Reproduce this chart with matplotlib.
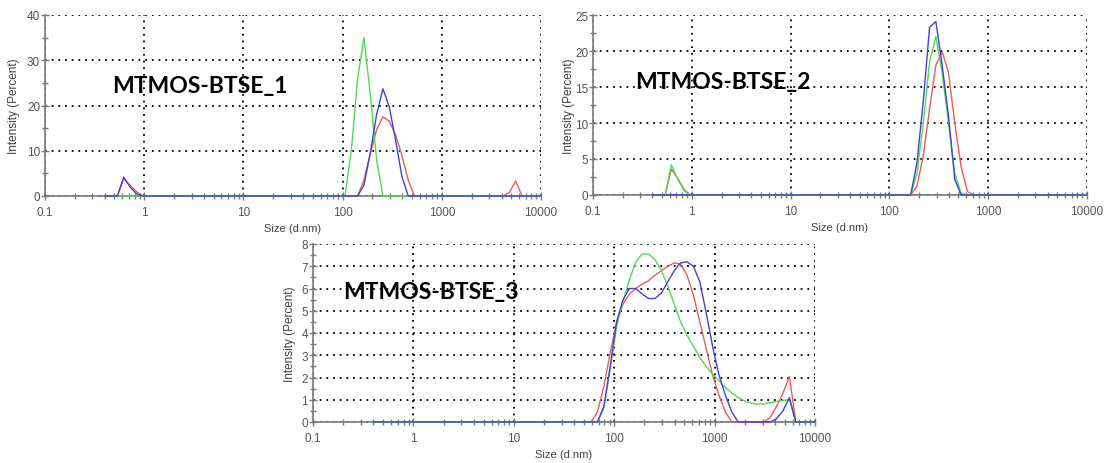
import matplotlib
matplotlib.use("Agg")
import matplotlib.pyplot as plt
from matplotlib.ticker import FixedLocator, NullFormatter, MultipleLocator

# ---- data (size in d.nm, intensity in %) ----
# MTMOS-BTSE_1
p1_red_size = [0.4, 0.5365, 0.6213, 0.7195, 0.8332, 0.9649, 141.8, 164.2, 190.1, 220.2, 255.0,
               295.3, 342.0, 396.1, 458.7, 531.2, 4145, 4801, 5560, 6439, 10000]
p1_red_val = [0, 0, 3.8, 2.4, 1.0, 0, 0, 3.5, 9.4, 14.6, 17.5,
              16.5, 13.5, 9.0, 3.5, 0, 0, 0.8, 3.3, 0, 0]
p1_green_size = [0.4, 105.7, 122.4, 141.8, 164.2, 190.1, 220.2, 255.0, 10000]
p1_green_val = [0, 0, 10, 26, 35, 22.5, 8, 0, 0]
p1_blue_size = [0.4, 0.5365, 0.6213, 0.7195, 0.8332, 0.9649, 141.8, 164.2, 190.1, 220.2, 255.0,
                295.3, 342.0, 396.1, 458.7, 10000]
p1_blue_val = [0, 0, 4.2, 2.0, 0.5, 0, 0, 2.4, 9.5, 18, 23.7,
               19.7, 12.4, 4.3, 0, 0]

# MTMOS-BTSE_2
p2_red_size = [0.4, 0.5365, 0.6213, 0.7195, 0.8332, 0.9649, 164.2, 190.1, 220.2, 255.0, 295.3,
               342.0, 396.1, 458.7, 531.2, 615.1, 712.4, 10000]
p2_red_val = [0, 0, 3.6, 2.3, 0.8, 0, 0, 1.2, 5.5, 12, 18,
              19.9, 17, 10, 4, 0.5, 0, 0]
p2_green_size = [0.4, 0.5365, 0.6213, 0.7195, 0.8332, 0.9649, 164.2, 190.1, 220.2, 255.0, 295.3,
                 342.0, 396.1, 458.7, 531.2, 615.1, 10000]
p2_green_val = [0, 0, 4.2, 2.2, 0.6, 0, 0, 3, 10, 18.5, 22,
                17, 10, 3, 0.3, 0, 0]
p2_blue_size = [0.4, 164.2, 190.1, 220.2, 255.0, 295.3, 342.0, 396.1, 458.7, 531.2, 10000]
p2_blue_val = [0, 0, 4.5, 13, 23.3, 24.1, 18, 11, 2.2, 0, 0]

# MTMOS-BTSE_3
p3_red_size = [0.4, 58.77, 68.06, 78.82, 91.28, 105.7, 122.4, 141.8, 164.2, 190.1, 220.2, 255.0,
               295.3, 342.0, 396.1, 458.7, 531.2, 615.1, 712.4, 825.0, 955.4, 1106, 1281, 1484,
               3091, 3580, 4145, 4801, 5560, 6439, 10000]
p3_red_val = [0, 0, 0.45, 1.6, 3.1, 4.5, 5.3, 5.75, 6.0, 6.2, 6.35, 6.6,
              6.8, 7.0, 7.15, 7.1, 6.6, 5.7, 4.5, 3.3, 2.1, 1.2, 0.45, 0,
              0, 0.2, 0.7, 1.3, 2.05, 0, 0]
p3_green_size = [0.4, 68.06, 78.82, 91.28, 105.7, 122.4, 141.8, 164.2, 190.1, 220.2, 255.0,
                 295.3, 342.0, 396.1, 458.7, 531.2, 615.1, 712.4, 825.0, 955.4, 1106, 1281,
                 1484, 1718, 1990, 2305, 2669, 3091, 3580, 4145, 4801, 5560, 6439, 10000]
p3_green_val = [0, 0, 0.6, 2.4, 4.3, 5.4, 6.4, 7.2, 7.55, 7.55, 7.3,
                6.8, 6.1, 5.3, 4.5, 3.9, 3.4, 2.9, 2.5, 2.15, 1.85, 1.55,
                1.3, 1.1, 0.95, 0.85, 0.8, 0.82, 0.87, 0.92, 0.97, 1.0, 0, 0]
p3_blue_size = [0.4, 68.06, 78.82, 91.28, 105.7, 122.4, 141.8, 164.2, 190.1, 220.2, 255.0,
                295.3, 342.0, 396.1, 458.7, 531.2, 615.1, 712.4, 825.0, 955.4, 1106, 1281,
                1484, 1718, 3580, 4145, 4801, 5560, 6439, 10000]
p3_blue_val = [0, 0, 0.7, 2.5, 4.5, 5.5, 6.0, 6.0, 5.75, 5.55, 5.55,
               5.8, 6.3, 6.8, 7.15, 7.2, 7.0, 6.3, 4.9, 3.4, 2.1, 1.2,
               0.45, 0, 0, 0.15, 0.5, 1.1, 0, 0]

sample_names = ["MTMOS-BTSE_1", "MTMOS-BTSE_2", "MTMOS-BTSE_3"]
x_ticks = [0.1, 1, 10, 100, 1000, 10000]
x_tick_labels = ["0.1", "1", "10", "100", "1000", "10000"]

RED, GREEN, BLUE = "#ec5b5b", "#4fdc4f", "#4343d2"
GRAY = "#7a7a7a"
W, H = 1104, 464

fig = plt.figure(figsize=(W / 100, H / 100), dpi=100)
fig.patch.set_facecolor("white")


def make_axes(left, top, right, bottom):
    # pixel box -> figure fraction
    return fig.add_axes([left / W, 1 - bottom / H, (right - left) / W, (bottom - top) / H])


def style(ax, ymax, ystep, yminor, ylab_px, width_px):
    ax.set_xscale("log")
    ax.set_xlim(0.1, 10000)
    ax.set_ylim(0, ymax)
    ax.xaxis.set_major_locator(FixedLocator(x_ticks))
    ax.set_xticklabels(x_tick_labels)
    ax.xaxis.set_minor_locator(FixedLocator([m * 10.0 ** e for e in range(-1, 4) for m in range(2, 10)]))
    ax.xaxis.set_minor_formatter(NullFormatter())
    ax.yaxis.set_major_locator(MultipleLocator(ystep))
    ax.yaxis.set_minor_locator(MultipleLocator(yminor))
    for s in ["top", "right"]:
        ax.spines[s].set_visible(False)
    for s in ["left", "bottom"]:
        ax.spines[s].set_color(GRAY)
        ax.spines[s].set_linewidth(1.2)
    ax.tick_params(which="major", direction="inout", length=6, width=1, color=GRAY,
                   labelsize=8.5, labelcolor="#555555")
    ax.tick_params(which="minor", direction="inout", length=4, width=1, color=GRAY)
    ax.tick_params(axis="y", pad=0.5)
    ax.tick_params(axis="x", pad=4)
    ax.grid(True, which="major", color="black", linestyle=(0, (1, 2.7)), linewidth=1.3)
    ax.set_axisbelow(True)
    for lab in ax.get_xticklabels() + ax.get_yticklabels():
        lab.set_family("Liberation Sans")
    ax.set_xlabel("Size (d.nm)", fontsize=8, color="#404040", family="Liberation Sans")
    ax.set_ylabel("Intensity (Percent)", fontsize=8.5, color="#404040", family="Liberation Sans")
    ax.yaxis.set_label_coords(ylab_px / width_px, 0.5)


ax1 = make_axes(45, 16, 541, 197)
ax2 = make_axes(593, 16, 1087, 196)
ax3 = make_axes(313, 245, 815, 423)

panels = [
    (ax1, p1_red_size, p1_red_val, p1_green_size, p1_green_val, p1_blue_size, p1_blue_val),
    (ax2, p2_red_size, p2_red_val, p2_green_size, p2_green_val, p2_blue_size, p2_blue_val),
    (ax3, p3_red_size, p3_red_val, p3_green_size, p3_green_val, p3_blue_size, p3_blue_val),
]
for ax, rs, rv, gs, gv, bs, bv in panels:
    ax.plot(rs, rv, color=RED, lw=1.0, clip_on=False, zorder=3)
    ax.plot(gs, gv, color=GREEN, lw=1.0, clip_on=False, zorder=3)
    ax.plot(bs, bv, color=BLUE, lw=1.0, clip_on=False, zorder=4)

style(ax1, 40, 10, 5, -25, 496)
style(ax2, 25, 5, 2.5, -18, 494)
style(ax3, 8, 1, 0.5, -17, 502)
ax1.xaxis.set_label_coords(0.5, -0.15)
ax2.xaxis.set_label_coords(0.5, -0.15)
ax3.xaxis.set_label_coords(0.5, -0.15)

# sample names, bold, in the plot area
fig.text(112 / W, 1 - 87 / H, sample_names[0], fontsize=16.5, fontweight="bold",
         family="Lato", va="center", ha="left")
fig.text(635 / W, 1 - 82 / H, sample_names[1], fontsize=16.5, fontweight="bold",
         family="Lato", va="center", ha="left")
fig.text(343 / W, 1 - 293 / H, sample_names[2], fontsize=16.5, fontweight="bold",
         family="Lato", va="center", ha="left")

fig.savefig("out.png", dpi=100, facecolor="white")
